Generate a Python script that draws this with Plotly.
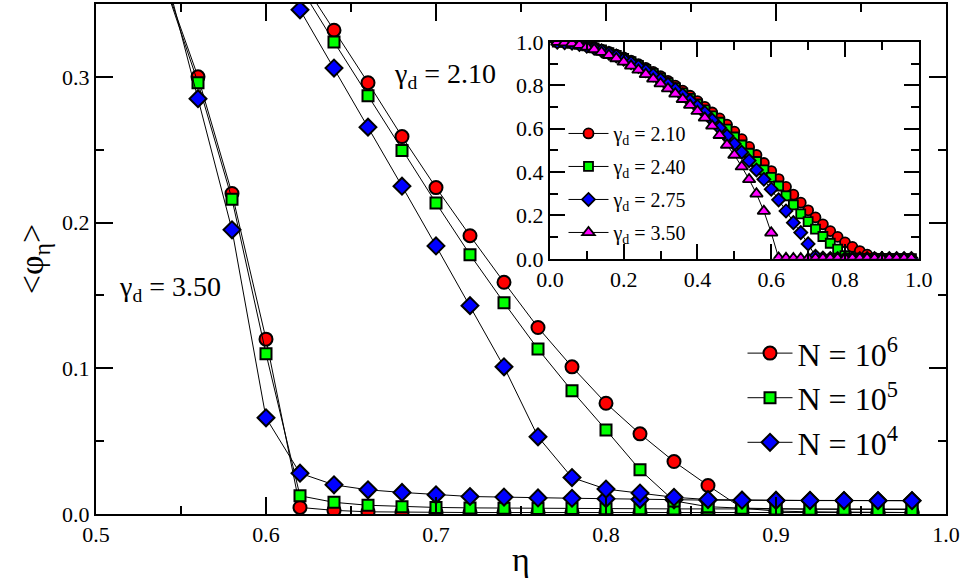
import plotly.graph_objects as go

# main panel, gamma_d = 3.50
eta_350 = [0.50, 0.52, 0.54, 0.56, 0.58, 0.60, 0.62, 0.64, 0.66, 0.68, 0.70, 0.72, 0.74,
           0.76, 0.78, 0.80, 0.82, 0.84, 0.86, 0.88, 0.90, 0.92, 0.94, 0.96, 0.98]
phi_350_N6 = [0.479, 0.425, 0.366, 0.300, 0.220, 0.120, 0.0045, 0.0025, 0.0015, 0.0012, 0.0010,
              0.0010, 0.0010, 0.0010, 0.0010, 0.0010, 0.0010, 0.0010, 0.0010, 0.0010, 0.0010,
              0.0010, 0.0010, 0.0010, 0.0010]
phi_350_N5 = [0.478, 0.424, 0.365, 0.296, 0.216, 0.110, 0.0125, 0.008, 0.006, 0.005, 0.0045,
              0.0042, 0.0040, 0.0038, 0.0037, 0.0036, 0.0036, 0.0035, 0.0035, 0.0035, 0.0034,
              0.0034, 0.0034, 0.0034, 0.0034]
phi_350_N4 = [0.490, 0.440, 0.375, 0.285, 0.195, 0.066, 0.028, 0.020, 0.0166, 0.0148, 0.0132,
              0.0120, 0.0116, 0.0110, 0.0108, 0.0105, 0.0100, 0.0097, 0.0095, 0.0094, 0.0093,
              0.0093, 0.0092, 0.0092, 0.0092]

# main panel, gamma_d = 2.10
eta_210 = [0.56, 0.58, 0.60, 0.62, 0.64, 0.66, 0.68, 0.70, 0.72, 0.74, 0.76, 0.78, 0.80,
           0.82, 0.84, 0.86, 0.88, 0.90, 0.92, 0.94, 0.96, 0.98]
phi_210_N6 = [0.479, 0.442, 0.405, 0.368, 0.332, 0.296, 0.259, 0.224, 0.191, 0.159, 0.128,
              0.101, 0.076, 0.055, 0.036, 0.0196, 0.004, 0.002, 0.0015, 0.0012, 0.001, 0.001]
phi_210_N5 = [0.470, 0.434, 0.398, 0.362, 0.324, 0.287, 0.2495, 0.2134, 0.178, 0.145, 0.1132,
              0.0845, 0.0577, 0.0303, 0.009, 0.005, 0.004, 0.0035, 0.0033, 0.0032, 0.0031, 0.0031]
phi_210_N4 = [0.458, 0.420, 0.383, 0.346, 0.306, 0.2655, 0.225, 0.184, 0.143, 0.101, 0.053,
              0.025, 0.0171, 0.0144, 0.0115, 0.0099, 0.0095, 0.0093, 0.0092, 0.0092, 0.0091, 0.0091]

# inset, N = 10^6
eta_in = [0.02, 0.04, 0.06, 0.08, 0.10, 0.12, 0.14, 0.16, 0.18, 0.20, 0.22, 0.24, 0.26, 0.28,
          0.30, 0.32, 0.34, 0.36, 0.38, 0.40, 0.42, 0.44, 0.46, 0.48, 0.50, 0.52, 0.54, 0.56,
          0.58, 0.60, 0.62, 0.64, 0.66, 0.68, 0.70, 0.72, 0.74, 0.76, 0.78, 0.80, 0.82, 0.84,
          0.86, 0.88, 0.90, 0.92, 0.94, 0.96, 0.98]
in_210 = [1.000, 0.998, 0.995, 0.990, 0.983, 0.975, 0.965, 0.954, 0.942, 0.929, 0.914, 0.898,
          0.881, 0.862, 0.842, 0.821, 0.799, 0.776, 0.752, 0.727, 0.701, 0.675, 0.648, 0.619,
          0.587, 0.552, 0.516, 0.479, 0.442, 0.405, 0.368, 0.332, 0.296, 0.259, 0.224, 0.191,
          0.159, 0.128, 0.101, 0.076, 0.055, 0.036, 0.0196, 0.004, 0.002, 0.0015, 0.0012, 0.001,
          0.001]
in_240 = [1.000, 0.998, 0.994, 0.989, 0.982, 0.973, 0.963, 0.951, 0.938, 0.924, 0.909, 0.892,
          0.874, 0.855, 0.834, 0.812, 0.789, 0.765, 0.740, 0.714, 0.687, 0.659, 0.630, 0.598,
          0.562, 0.525, 0.487, 0.449, 0.410, 0.376, 0.336, 0.290, 0.249, 0.207, 0.172, 0.137,
          0.103, 0.072, 0.045, 0.015, 0.004, 0.002, 0.0015, 0.0015, 0.0015, 0.0015, 0.0015,
          0.0015, 0.0015]
in_275 = [0.999, 0.997, 0.994, 0.988, 0.980, 0.971, 0.960, 0.948, 0.935, 0.920, 0.904, 0.887,
          0.868, 0.848, 0.827, 0.805, 0.781, 0.756, 0.730, 0.703, 0.674, 0.640, 0.604, 0.567,
          0.530, 0.492, 0.453, 0.410, 0.367, 0.321, 0.272, 0.221, 0.167, 0.121, 0.069, 0.012,
          0.004, 0.002, 0.0015, 0.0015, 0.0015, 0.0015, 0.0015, 0.0015, 0.0015, 0.0015, 0.0015,
          0.0015, 0.0015]
in_350 = [0.999, 0.997, 0.993, 0.986, 0.977, 0.966, 0.953, 0.939, 0.924, 0.908, 0.890, 0.871,
          0.851, 0.830, 0.808, 0.785, 0.761, 0.736, 0.709, 0.681, 0.650, 0.613, 0.570, 0.525,
          0.479, 0.425, 0.366, 0.300, 0.220, 0.120, 0.0045, 0.0025, 0.0015, 0.0015, 0.0015,
          0.0015, 0.0015, 0.0015, 0.0015, 0.0015, 0.0015, 0.0015, 0.0015, 0.0015, 0.0015,
          0.0015, 0.0015, 0.0015, 0.0015]

red = "#FF0000"
green = "#00FF00"
blue = "#0000FF"
magenta = "#FF00FF"
font = "Liberation Serif, Times New Roman, DejaVu Serif, serif"

fig = go.Figure()

main_sets = [
    (eta_350, phi_350_N6, "circle", red, 13, "N = 10<sup>6</sup>", True),
    (eta_350, phi_350_N5, "square", green, 11, "N = 10<sup>5</sup>", True),
    (eta_350, phi_350_N4, "diamond", blue, 13, "N = 10<sup>4</sup>", True),
    (eta_210, phi_210_N6, "circle", red, 13, "", False),
    (eta_210, phi_210_N5, "square", green, 11, "", False),
    (eta_210, phi_210_N4, "diamond", blue, 13, "", False),
]
for x, y, sym, col, sz, name, leg in main_sets:
    fig.add_trace(go.Scatter(
        x=x, y=y, mode="lines+markers", name=name, showlegend=leg,
        line=dict(color="black", width=1),
        marker=dict(symbol=sym, size=sz, color=col, line=dict(color="black", width=2)),
        xaxis="x", yaxis="y", legend="legend",
    ))

inset_sets = [
    (in_210, "circle", red, 10, "γ<sub>d</sub> = 2.10"),
    (in_240, "square", green, 9, "γ<sub>d</sub> = 2.40"),
    (in_275, "diamond", blue, 10, "γ<sub>d</sub> = 2.75"),
    (in_350, "triangle-up", magenta, 11, "γ<sub>d</sub> = 3.50"),
]
for i, (y, sym, col, sz, name) in enumerate(inset_sets):
    fig.add_trace(go.Scatter(
        x=eta_in, y=y, mode="lines+markers", name=name, legendgroup="g%d" % i,
        line=dict(color="black", width=1),
        marker=dict(symbol=sym, size=sz, color=col, line=dict(color="black", width=1.8)),
        xaxis="x2", yaxis="y2", legend="legend2",
    ))

ax_common = dict(
    showline=True, linecolor="black", linewidth=2, mirror="allticks",
    ticks="inside", tickwidth=1.5, tickcolor="black", automargin=False,
    showgrid=False, zeroline=False, tickformat=".1f",
    tickfont=dict(family=font, size=22, color="black"),
)
minor_tick = dict(ticklen=8, ticks="inside", tickwidth=1.5, tickcolor="black")

fig.update_layout(
    width=961, height=578,
    margin=dict(l=96, r=15, t=4, b=64, autoexpand=False),
    plot_bgcolor="white", paper_bgcolor="white",
    font=dict(family=font, color="black"),
    xaxis=dict(range=[0.5, 1.0], tick0=0.5, dtick=0.1, ticklen=17,
               minor=dict(dtick=0.05, **minor_tick),
               title=dict(text="η", font=dict(family=font, size=34), standoff=4),
               **ax_common),
    yaxis=dict(range=[0, 0.35], tick0=0, dtick=0.1, ticklen=17,
               minor=dict(dtick=0.05, **minor_tick),
               title=dict(text="&lt;φ<sub>η</sub>&gt;", font=dict(family=font, size=34), standoff=8),
               **ax_common),
    xaxis2=dict(domain=[0.534, 0.968], anchor="y2", range=[0, 1.0], tick0=0, dtick=0.2,
                ticklen=15, minor=dict(dtick=0.1, **minor_tick), **ax_common),
    yaxis2=dict(domain=[0.5003, 0.9255], anchor="x2", range=[0, 1.0], tick0=0, dtick=0.2,
                ticklen=15, minor=dict(dtick=0.1, **minor_tick), **ax_common),
    legend=dict(x=0.7606, y=0.369, xanchor="left", yanchor="top", bgcolor="rgba(0,0,0,0)",
                font=dict(family=font, size=32), itemwidth=45),
    legend2=dict(x=0.55, y=0.7844, xanchor="left", yanchor="top", bgcolor="rgba(0,0,0,0)",
                 font=dict(family=font, size=20), traceorder="grouped", tracegroupgap=4,
                 itemwidth=40),
)

fig.add_annotation(x=0.7055, y=0.301, xref="x", yref="y", showarrow=False,
                   text="γ<sub>d</sub> = 2.10", font=dict(family=font, size=28))
fig.add_annotation(x=0.5437, y=0.155, xref="x", yref="y", showarrow=False,
                   text="γ<sub>d</sub> = 3.50", font=dict(family=font, size=28))

# page body has a default 8px margin; drop it so the figure sits at the window corner
fig.write_html("out.html", config={"displayModeBar": False},
               post_script="document.body.style.margin='0';document.body.style.overflow='hidden';")
